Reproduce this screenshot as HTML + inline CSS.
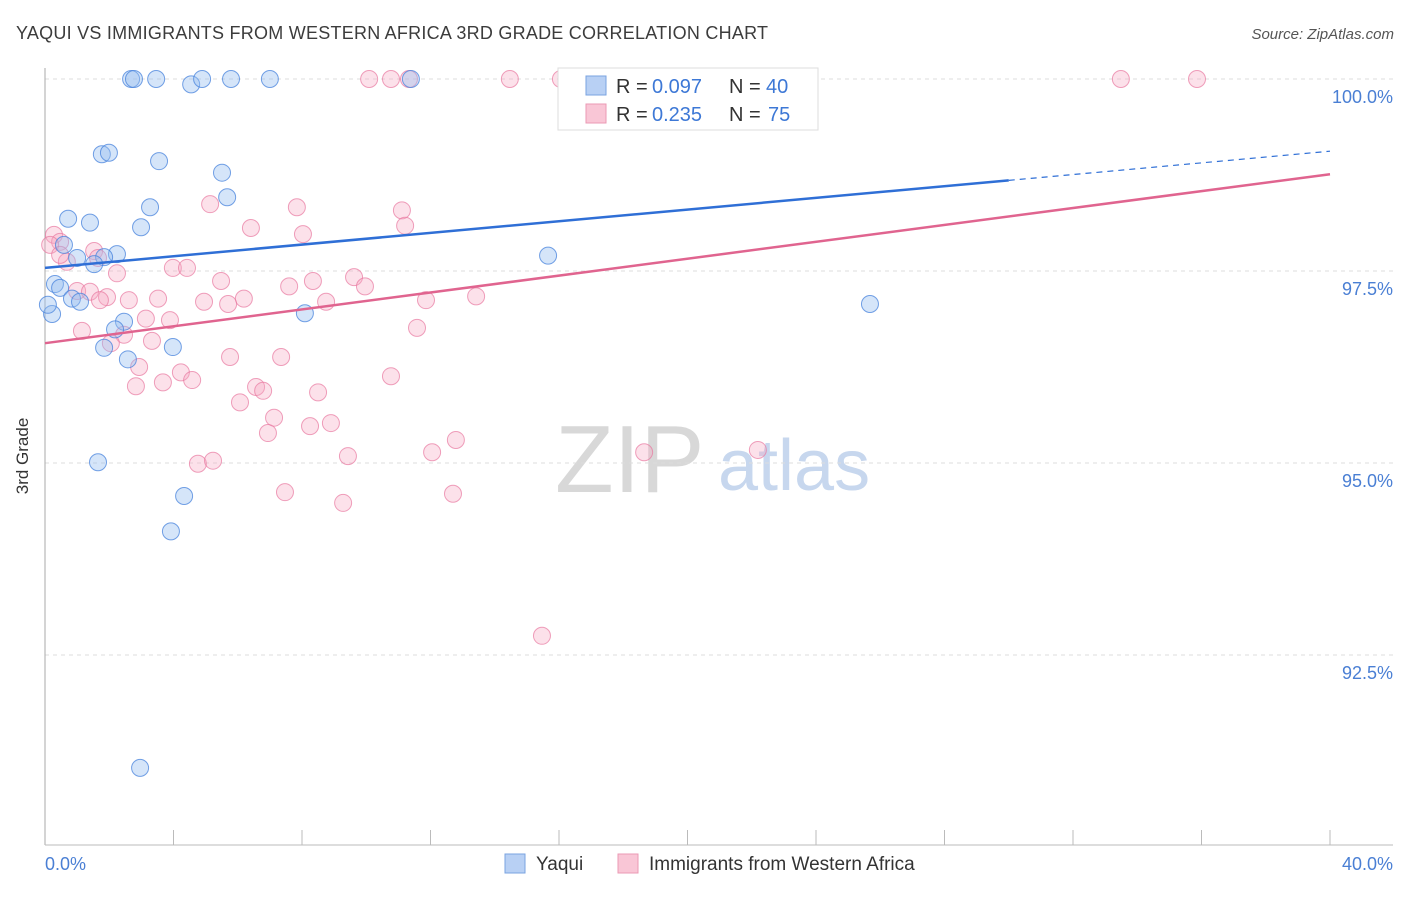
<!DOCTYPE html>
<html><head><meta charset="utf-8"><style>
body{margin:0;background:#fff;font-family:"Liberation Sans",sans-serif}
svg text{font-family:"Liberation Sans",sans-serif}
</style></head><body>
<svg id="c" width="1406" height="892" viewBox="0 0 1406 892">
<text x="16" y="39" font-size="18" fill="#3c3c3c" textLength="752">YAQUI VS IMMIGRANTS FROM WESTERN AFRICA 3RD GRADE CORRELATION CHART</text>
<text x="1394" y="39" font-size="15" fill="#555" font-style="italic" text-anchor="end">Source: ZipAtlas.com</text>
<text x="555" y="492" font-size="96" fill="#d8d8d8" font-family="Liberation Serif">ZIP</text>
<text x="718" y="490" font-size="72" fill="#c7d7ee">atlas</text>
<g id="grid"></g>
<line x1="45" y1="68" x2="45" y2="845" stroke="#aaa"/>
<line x1="45" y1="845" x2="1393" y2="845" stroke="#bbb"/>
<text x="28" y="456" font-size="17" fill="#333" transform="rotate(-90 28 456)" text-anchor="middle">3rd Grade</text>
<text x="45" y="870" font-size="18" fill="#4a7fd4">0.0%</text>
<text x="1393" y="870" font-size="18" fill="#4a7fd4" text-anchor="end">40.0%</text>
<g id="pts"></g>
<g id="lines"></g>
<g>
<rect x="558" y="68" width="260" height="62" fill="#fff" stroke="#ddd"/>
<rect x="586" y="76" width="20" height="19" fill="#b8d0f4" stroke="#7aa3e0"/>
<rect x="586" y="104" width="20" height="19" fill="#f9c6d6" stroke="#eb9ab4"/>
<text x="616" y="93" font-size="20" fill="#333">R =</text>
<text x="652" y="93" font-size="20" fill="#3d78d6">0.097</text>
<text x="729" y="93" font-size="20" fill="#333">N =</text>
<text x="766" y="93" font-size="20" fill="#3d78d6">40</text>
<text x="616" y="121" font-size="20" fill="#333">R =</text>
<text x="652" y="121" font-size="20" fill="#3d78d6">0.235</text>
<text x="729" y="121" font-size="20" fill="#333">N =</text>
<text x="768" y="121" font-size="20" fill="#3d78d6">75</text>
</g>
<g>
<rect x="505" y="854" width="20" height="19" fill="#b8d0f4" stroke="#7aa3e0"/>
<text x="536" y="870" font-size="19" fill="#333">Yaqui</text>
<rect x="618" y="854" width="20" height="19" fill="#f9c6d6" stroke="#eb9ab4"/>
<text x="649" y="870" font-size="19" fill="#333">Immigrants from Western Africa</text>
</g>
</svg>
<script>
const yTicks=[100,97.5,95,92.5];
const yTickLabels=["100.0%","97.5%","95.0%","92.5%"];
const xTicks=[0,4,8,12,16,20,24,28,32,36,40];
const blueX=[2.68,2.77,3.46,4.55,4.89,5.79,7.00,11.39,1.77,1.99,3.55,5.51,5.67,3.27,0.72,1.40,2.99,0.59,2.24,15.66,1.00,1.84,1.53,0.31,0.47,0.84,1.09,0.22,0.09,8.09,25.68,2.46,2.18,1.84,2.58,3.98,1.65,4.33,3.92,2.96];
const blueY=[100,100,100,99.93,100,100,100,100,99.02,99.04,98.93,98.78,98.46,98.33,98.18,98.13,98.07,97.84,97.72,97.70,97.67,97.68,97.59,97.33,97.28,97.14,97.10,96.94,97.06,96.95,97.07,96.84,96.74,96.50,96.35,96.51,95.01,94.57,94.11,91.03];
const pinkX=[10.09,10.77,11.33,14.47,16.06,16.62,33.49,35.86,5.14,7.84,11.11,11.21,6.41,8.03,0.28,0.47,1.53,1.65,0.68,3.98,4.42,2.24,5.48,8.34,7.60,9.62,9.96,1.00,1.40,1.93,3.52,2.61,6.19,4.95,5.70,8.75,11.86,13.42,3.14,3.89,11.58,1.15,2.46,3.33,2.05,5.76,7.35,2.93,4.23,3.67,2.83,4.58,10.77,6.57,6.79,8.50,6.07,7.13,8.90,8.25,6.94,12.79,9.43,12.05,18.65,22.19,4.76,5.23,7.47,12.70,9.28,15.47,0.16,1.71,0.47];
const pinkY=[100,100,100,100,100,100,100,100,98.37,98.33,98.29,98.09,98.06,97.98,97.97,97.88,97.76,97.67,97.62,97.54,97.54,97.47,97.37,97.37,97.30,97.42,97.30,97.24,97.23,97.16,97.14,97.12,97.14,97.10,97.07,97.10,97.12,97.17,96.88,96.86,96.76,96.72,96.67,96.59,96.56,96.38,96.38,96.25,96.18,96.05,96.00,96.08,96.13,95.99,95.94,95.92,95.79,95.59,95.52,95.48,95.39,95.30,95.09,95.14,95.14,95.17,94.99,95.03,94.62,94.60,94.48,92.75,97.84,97.12,97.71];
const blueTrend=[97.54,99.06];
const pinkTrend=[96.56,98.76];
const NS="http://www.w3.org/2000/svg";
const sx=v=>45+v/40*1285;
const sy=v=>79+(100-v)*76.8;
function mk(t,a,p){const e=document.createElementNS(NS,t);for(const k in a)e.setAttribute(k,a[k]);p.appendChild(e);return e;}
const grid=document.getElementById('grid');
yTicks.forEach((v,i)=>{
 const l=mk('line',{x1:45,x2:1393,y1:sy(v),y2:sy(v),stroke:'#ddd','stroke-dasharray':'4,4'},grid);
 
 
 const t=mk('text',{x:1393,y:sy(v)+24,'font-size':18,fill:'#4a7fd4','text-anchor':'end'},grid);
 t.textContent=yTickLabels[i];
 
 
});
xTicks.forEach(v=>{
 const l=mk('line',{x1:sx(v),x2:sx(v),y1:830,y2:845,stroke:'#bbb'},grid);
 
 
});
const pts=document.getElementById('pts');
pinkX.forEach((x,i)=>{
 const c=mk('circle',{cx:sx(x),cy:sy(pinkY[i]),r:8.5,fill:'rgba(246,170,195,0.35)',stroke:'rgba(232,120,160,0.7)','stroke-width':1},pts);
 
 
});
blueX.forEach((x,i)=>{
 const c=mk('circle',{cx:sx(x),cy:sy(blueY[i]),r:8.5,fill:'rgba(150,190,240,0.4)',stroke:'rgba(70,130,220,0.75)','stroke-width':1},pts);
 
 
});
const lines=document.getElementById('lines');
const bx=30;
const bl=mk('line',{x1:sx(0),y1:sy(blueTrend[0]),x2:sx(bx),y2:sy(blueTrend[0]+(blueTrend[1]-blueTrend[0])*bx/40),stroke:'#2f6fd6','stroke-width':2.5},lines);


const bd=mk('line',{x1:sx(bx),y1:sy(blueTrend[0]+(blueTrend[1]-blueTrend[0])*bx/40),x2:sx(40),y2:sy(blueTrend[1]),stroke:'#2f6fd6','stroke-width':1.2,'stroke-dasharray':'6,5'},lines);


const pl=mk('line',{x1:sx(0),y1:sy(pinkTrend[0]),x2:sx(40),y2:sy(pinkTrend[1]),stroke:'#e0648f','stroke-width':2.5},lines);


</script>
</body></html>
